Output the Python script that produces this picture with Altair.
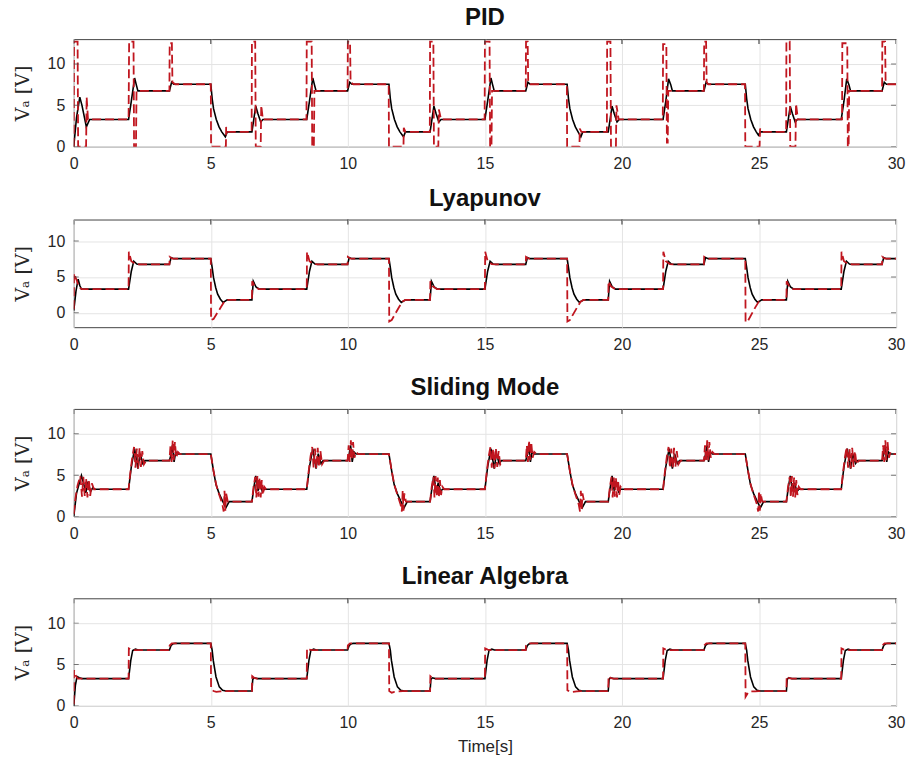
import altair as alt
import pandas as pd

X_TICKS = [0, 5, 10, 15, 20, 25, 30]
Y_TICKS = [0, 5, 10]
TITLES = ["PID", "Lyapunov", "Sliding Mode", "Linear Algebra"]
Y_DOMAINS = [[0, 13], [-2, 13], [0, 13], [0, 13]]
Y_TITLE = "Vₐ [V]"
X_TITLE = "Time[s]"

PID_BLACK = [
    (0, 0), (0.1, 3.5), (0.22, 6.0), (0.3, 5.0), (0.46, 2.4), (0.58, 3.3),
    (2.0, 3.3), (2.1, 5.5), (2.22, 8.3), (2.28, 7.5), (2.34, 6.75),
    (3.49, 6.75), (3.57, 7.8), (3.65, 7.55),
    (5.0, 7.55), (5.05, 5.8), (5.1, 4.6), (5.2, 3.3), (5.3, 2.4), (5.4, 1.8), (5.53, 1.2), (5.6, 1.8),
    (6.5, 1.8), (6.64, 4.9), (6.72, 4.0), (6.82, 3.0), (6.9, 3.3),
    (8.5, 3.3), (8.6, 5.5), (8.72, 8.3), (8.78, 7.5), (8.84, 6.75),
    (9.99, 6.75), (10.07, 7.8), (10.15, 7.55),
    (11.5, 7.55), (11.55, 5.8), (11.6, 4.6), (11.7, 3.3), (11.8, 2.4), (11.9, 1.8), (12.03, 1.2), (12.1, 1.8),
    (13.0, 1.8), (13.14, 4.9), (13.22, 4.0), (13.32, 3.0), (13.4, 3.3),
    (15.0, 3.3), (15.1, 5.5), (15.22, 8.3), (15.28, 7.5), (15.34, 6.75),
    (16.49, 6.75), (16.57, 7.8), (16.65, 7.55),
    (18.0, 7.55), (18.05, 5.8), (18.1, 4.6), (18.2, 3.3), (18.3, 2.4), (18.4, 1.8), (18.5, 1.2), (18.57, 1.8),
    (19.5, 1.8), (19.64, 4.9), (19.72, 4.0), (19.82, 3.0), (19.9, 3.3),
    (21.5, 3.3), (21.6, 5.5), (21.7, 8.2), (21.78, 7.5), (21.84, 6.75),
    (22.99, 6.75), (23.07, 7.8), (23.15, 7.55),
    (24.5, 7.55), (24.55, 5.8), (24.6, 4.6), (24.7, 3.3), (24.8, 2.4), (24.9, 1.8), (24.98, 1.4), (25.05, 1.8),
    (26.0, 1.8), (26.14, 4.9), (26.22, 4.0), (26.32, 3.0), (26.4, 3.3),
    (28.0, 3.3), (28.1, 5.5), (28.2, 8.2), (28.28, 7.5), (28.34, 6.75),
    (29.49, 6.75), (29.57, 7.8), (29.65, 7.55), (30.0, 7.55),
]

PID_RED = [
    (0, 0), (0.01, 12.7), (0.14, 12.7), (0.16, 0), (0.45, 0), (0.47, 6.0), (0.52, 3.3),
    (2.0, 3.3), (2.02, 12.7), (2.18, 12.7), (2.2, 0), (2.27, 0), (2.29, 6.75),
    (3.49, 6.75), (3.5, 12.5), (3.58, 12.5), (3.6, 7.8), (3.7, 7.55),
    (5.0, 7.55), (5.01, 0), (5.55, 0), (5.56, 2.4), (5.6, 1.8),
    (6.49, 1.8), (6.5, 12.7), (6.62, 12.7), (6.64, 0), (6.82, 0), (6.84, 5.0), (6.9, 3.3),
    (8.49, 3.3), (8.5, 12.7), (8.68, 12.7), (8.7, 0), (8.76, 0), (8.78, 6.75),
    (9.99, 6.75), (10.0, 12.7), (10.08, 12.7), (10.1, 7.8), (10.2, 7.55),
    (11.49, 7.55), (11.5, 0), (12.03, 0), (12.04, 2.3), (12.1, 1.8),
    (12.99, 1.8), (13.0, 12.7), (13.12, 12.7), (13.14, 0), (13.3, 0), (13.32, 4.5), (13.4, 3.3),
    (14.99, 3.3), (15.0, 12.7), (15.17, 12.7), (15.19, 0), (15.24, 0), (15.26, 6.75),
    (16.49, 6.75), (16.5, 12.7), (16.56, 12.7), (16.58, 7.8), (16.65, 7.55),
    (17.99, 7.55), (18.0, 0), (18.45, 0), (18.46, 2.2), (18.52, 1.8),
    (19.45, 1.8), (19.46, 12.7), (19.58, 12.7), (19.6, 0), (19.78, 0), (19.8, 5.0), (19.88, 3.3),
    (21.49, 3.3), (21.5, 12.4), (21.62, 12.4), (21.64, 0.5), (21.67, 0.5), (21.69, 6.75),
    (22.99, 6.75), (23.0, 12.7), (23.07, 12.7), (23.09, 7.8), (23.15, 7.55),
    (24.49, 7.55), (24.5, 0), (25.02, 0), (25.04, 2.2), (25.1, 1.8),
    (25.99, 1.8), (26.0, 12.7), (26.12, 12.7), (26.14, 0), (26.33, 0), (26.35, 5.2), (26.42, 3.3),
    (28.03, 3.3), (28.04, 12.5), (28.22, 12.5), (28.24, 0), (28.27, 0), (28.29, 6.75),
    (29.49, 6.75), (29.5, 12.7), (29.6, 12.7), (29.62, 7.8), (29.7, 7.55), (30.0, 7.55),
]

LYA_BLACK = [
    (0, 0.3), (0.08, 3.0), (0.16, 4.7), (0.22, 3.8), (0.28, 3.3),
    (2.0, 3.3), (2.1, 5.8), (2.19, 7.2), (2.3, 6.8), (2.4, 6.75),
    (3.49, 6.75), (3.55, 7.7), (3.65, 7.55),
    (5.0, 7.55), (5.05, 6.3), (5.1, 4.9), (5.18, 3.5), (5.25, 2.6), (5.35, 1.9), (5.45, 1.45), (5.6, 1.8),
    (6.5, 1.8), (6.55, 4.4), (6.65, 3.6), (6.77, 3.3),
    (8.5, 3.3), (8.6, 5.8), (8.69, 7.2), (8.8, 6.8), (8.9, 6.75),
    (9.99, 6.75), (10.05, 7.7), (10.15, 7.55),
    (11.5, 7.55), (11.55, 6.3), (11.6, 4.9), (11.68, 3.5), (11.75, 2.6), (11.85, 1.9), (11.95, 1.45), (12.1, 1.8),
    (13.0, 1.8), (13.05, 4.4), (13.15, 3.6), (13.27, 3.3),
    (15.0, 3.3), (15.1, 5.8), (15.19, 7.2), (15.3, 6.8), (15.4, 6.75),
    (16.49, 6.75), (16.55, 7.7), (16.65, 7.55),
    (18.0, 7.55), (18.05, 6.3), (18.1, 4.9), (18.18, 3.5), (18.25, 2.6), (18.35, 1.9), (18.45, 1.45), (18.6, 1.8),
    (19.5, 1.8), (19.55, 4.4), (19.65, 3.6), (19.77, 3.3),
    (21.5, 3.3), (21.6, 5.8), (21.69, 7.2), (21.8, 6.8), (21.9, 6.75),
    (22.99, 6.75), (23.05, 7.7), (23.15, 7.55),
    (24.5, 7.55), (24.55, 6.3), (24.6, 4.9), (24.68, 3.5), (24.75, 2.6), (24.85, 1.9), (24.95, 1.45), (25.1, 1.8),
    (26.0, 1.8), (26.05, 4.4), (26.15, 3.6), (26.27, 3.3),
    (28.0, 3.3), (28.1, 5.8), (28.19, 7.2), (28.3, 6.8), (28.4, 6.75),
    (29.49, 6.75), (29.55, 7.7), (29.65, 7.55), (30.0, 7.55),
]

LYA_RED = [
    (0, 0.5), (0.01, 5.5), (0.1, 4.6), (0.2, 3.5), (0.3, 3.3),
    (2.0, 3.3), (2.01, 8.5), (2.1, 7.2), (2.25, 6.8), (2.4, 6.75),
    (3.49, 6.75), (3.5, 7.8), (3.6, 7.55),
    (5.0, 7.55), (5.01, -1.0), (5.1, -0.85), (5.37, 0.8), (5.5, 1.6), (5.6, 1.8),
    (6.5, 1.8), (6.51, 4.4), (6.6, 3.7), (6.75, 3.3),
    (8.5, 3.3), (8.51, 8.5), (8.6, 7.2), (8.75, 6.8), (8.9, 6.75),
    (9.99, 6.75), (10.0, 7.8), (10.1, 7.55),
    (11.5, 7.55), (11.51, -1.2), (11.6, -1.0), (11.87, 0.8), (12.0, 1.6), (12.1, 1.8),
    (13.0, 1.8), (13.01, 4.4), (13.1, 3.7), (13.25, 3.3),
    (15.0, 3.3), (15.01, 8.5), (15.1, 7.2), (15.25, 6.8), (15.4, 6.75),
    (16.49, 6.75), (16.5, 7.8), (16.6, 7.55),
    (18.0, 7.55), (18.01, -1.2), (18.1, -1.0), (18.37, 0.8), (18.5, 1.6), (18.6, 1.8),
    (19.5, 1.8), (19.51, 4.4), (19.6, 3.7), (19.75, 3.3),
    (21.5, 3.3), (21.51, 8.5), (21.6, 7.2), (21.75, 6.8), (21.9, 6.75),
    (22.99, 6.75), (23.0, 7.8), (23.1, 7.55),
    (24.5, 7.55), (24.51, -1.3), (24.6, -1.1), (24.87, 0.8), (25.0, 1.6), (25.1, 1.8),
    (26.0, 1.8), (26.01, 4.4), (26.1, 3.7), (26.25, 3.3),
    (28.0, 3.3), (28.01, 8.5), (28.1, 7.2), (28.25, 6.8), (28.4, 6.75),
    (29.49, 6.75), (29.5, 7.8), (29.6, 7.55), (30.0, 7.55),
]

SMC_BLACK = [
    (0, 0), (0.1, 2.8), (0.28, 4.96), (0.36, 4.0), (0.44, 2.86), (0.52, 4.2), (0.61, 3.0), (0.7, 3.5), (0.76, 3.3),
    (2.0, 3.3), (2.1, 6.0), (2.22, 8.2), (2.34, 5.8), (2.42, 7.6), (2.52, 6.4), (2.6, 6.75),
    (3.49, 6.75), (3.55, 7.5), (3.6, 8.6), (3.66, 6.6), (3.72, 7.8), (3.8, 7.55),
    (5.0, 7.55), (5.1, 5.5), (5.19, 3.86), (5.3, 2.8), (5.43, 1.87), (5.55, 1.07), (5.67, 1.8),
    (6.5, 1.8), (6.57, 3.5), (6.64, 4.9), (6.72, 3.1), (6.8, 4.1), (6.88, 3.0), (6.95, 3.3),
    (8.5, 3.3), (8.6, 6.0), (8.72, 8.2), (8.84, 5.8), (8.92, 7.6), (9.02, 6.4), (9.1, 6.75),
    (9.99, 6.75), (10.05, 7.5), (10.1, 8.6), (10.16, 6.6), (10.22, 7.8), (10.3, 7.55),
    (11.5, 7.55), (11.6, 5.5), (11.69, 3.86), (11.8, 2.8), (11.93, 1.87), (12.05, 1.07), (12.17, 1.8),
    (13.0, 1.8), (13.07, 3.5), (13.14, 4.9), (13.22, 3.1), (13.3, 4.1), (13.38, 3.0), (13.45, 3.3),
    (15.0, 3.3), (15.1, 6.0), (15.22, 8.2), (15.34, 5.8), (15.42, 7.6), (15.52, 6.4), (15.6, 6.75),
    (16.49, 6.75), (16.55, 7.5), (16.6, 8.6), (16.66, 6.6), (16.72, 7.8), (16.8, 7.55),
    (18.0, 7.55), (18.1, 5.5), (18.19, 3.86), (18.3, 2.8), (18.43, 1.87), (18.55, 1.07), (18.67, 1.8),
    (19.5, 1.8), (19.57, 3.5), (19.64, 4.9), (19.72, 3.1), (19.8, 4.1), (19.88, 3.0), (19.95, 3.3),
    (21.5, 3.3), (21.6, 6.0), (21.72, 8.2), (21.84, 5.8), (21.92, 7.6), (22.02, 6.4), (22.1, 6.75),
    (22.99, 6.75), (23.05, 7.5), (23.1, 8.6), (23.16, 6.6), (23.22, 7.8), (23.3, 7.55),
    (24.5, 7.55), (24.6, 5.5), (24.69, 3.86), (24.8, 2.8), (24.93, 1.87), (25.05, 1.07), (25.17, 1.8),
    (26.0, 1.8), (26.07, 3.5), (26.14, 4.9), (26.22, 3.1), (26.3, 4.1), (26.38, 3.0), (26.45, 3.3),
    (28.0, 3.3), (28.1, 6.0), (28.22, 8.2), (28.34, 5.8), (28.42, 7.6), (28.52, 6.4), (28.6, 6.75),
    (29.49, 6.75), (29.55, 7.5), (29.6, 8.6), (29.66, 6.6), (29.72, 7.8), (29.8, 7.55), (30.0, 7.55),
]

SMC_RED = [
    (0, 0.3), (0.06, 2.2), (0.14, 3.8), (0.24, 4.9), (0.3, 2.4), (0.35, 4.8), (0.4, 2.5), (0.45, 4.6),
    (0.5, 2.3), (0.55, 4.5), (0.6, 2.5), (0.66, 4.0), (0.74, 3.3),
    (2.0, 3.3), (2.06, 5.2), (2.14, 7.3), (2.2, 8.4), (2.25, 5.9), (2.3, 8.2), (2.35, 5.8), (2.4, 8.3),
    (2.45, 6.0), (2.5, 7.9), (2.56, 6.3), (2.64, 6.75),
    (3.49, 6.75), (3.53, 8.6), (3.57, 6.6), (3.61, 9.2), (3.65, 6.8), (3.69, 9.0), (3.74, 7.1), (3.8, 7.8), (3.88, 7.55),
    (5.0, 7.55), (5.1, 5.5), (5.2, 3.8), (5.3, 2.7), (5.42, 1.5), (5.47, 0.6), (5.5, 3.1), (5.53, 0.7), (5.56, 2.8), (5.62, 1.8),
    (6.5, 1.8), (6.56, 3.6), (6.62, 4.8), (6.66, 2.3), (6.7, 4.9), (6.74, 2.4), (6.78, 4.7), (6.82, 2.3),
    (6.86, 4.4), (6.9, 2.6), (6.95, 3.6), (7.02, 3.3),
    (8.5, 3.3), (8.56, 5.2), (8.64, 7.3), (8.7, 8.4), (8.75, 5.9), (8.8, 8.2), (8.85, 5.8), (8.9, 8.3),
    (8.95, 6.0), (9.0, 7.9), (9.06, 6.3), (9.14, 6.75),
    (9.99, 6.75), (10.03, 8.6), (10.07, 6.6), (10.11, 9.2), (10.15, 6.8), (10.19, 9.0), (10.24, 7.1), (10.3, 7.8), (10.38, 7.55),
    (11.5, 7.55), (11.6, 5.5), (11.7, 3.8), (11.8, 2.7), (11.92, 1.5), (11.97, 0.6), (12.0, 3.1), (12.03, 0.7), (12.06, 2.8), (12.12, 1.8),
    (13.0, 1.8), (13.06, 3.6), (13.12, 4.8), (13.16, 2.3), (13.2, 4.9), (13.24, 2.4), (13.28, 4.7), (13.32, 2.3),
    (13.36, 4.4), (13.4, 2.6), (13.45, 3.6), (13.52, 3.3),
    (15.0, 3.3), (15.06, 5.2), (15.14, 7.3), (15.2, 8.4), (15.25, 5.9), (15.3, 8.2), (15.35, 5.8), (15.4, 8.3),
    (15.45, 6.0), (15.5, 7.9), (15.56, 6.3), (15.64, 6.75),
    (16.49, 6.75), (16.53, 8.6), (16.57, 6.6), (16.61, 9.2), (16.65, 6.8), (16.69, 9.0), (16.74, 7.1), (16.8, 7.8), (16.88, 7.55),
    (18.0, 7.55), (18.1, 5.5), (18.2, 3.8), (18.3, 2.7), (18.42, 1.5), (18.47, 0.6), (18.5, 3.1), (18.53, 0.7), (18.56, 2.8), (18.62, 1.8),
    (19.5, 1.8), (19.56, 3.6), (19.62, 4.8), (19.66, 2.3), (19.7, 4.9), (19.74, 2.4), (19.78, 4.7), (19.82, 2.3),
    (19.86, 4.4), (19.9, 2.6), (19.95, 3.6), (20.02, 3.3),
    (21.5, 3.3), (21.56, 5.2), (21.64, 7.3), (21.7, 8.4), (21.75, 5.9), (21.8, 8.2), (21.85, 5.8), (21.9, 8.3),
    (21.95, 6.0), (22.0, 7.9), (22.06, 6.3), (22.14, 6.75),
    (22.99, 6.75), (23.03, 8.6), (23.07, 6.6), (23.11, 9.2), (23.15, 6.8), (23.19, 9.0), (23.24, 7.1), (23.3, 7.8), (23.38, 7.55),
    (24.5, 7.55), (24.6, 5.5), (24.7, 3.8), (24.8, 2.7), (24.92, 1.5), (24.97, 0.6), (25.0, 3.1), (25.03, 0.7), (25.06, 2.8), (25.12, 1.8),
    (26.0, 1.8), (26.06, 3.6), (26.12, 4.8), (26.16, 2.3), (26.2, 4.9), (26.24, 2.4), (26.28, 4.7), (26.32, 2.3),
    (26.36, 4.4), (26.4, 2.6), (26.45, 3.6), (26.52, 3.3),
    (28.0, 3.3), (28.06, 5.2), (28.14, 7.3), (28.2, 8.4), (28.25, 5.9), (28.3, 8.2), (28.35, 5.8), (28.4, 8.3),
    (28.45, 6.0), (28.5, 7.9), (28.56, 6.3), (28.64, 6.75),
    (29.49, 6.75), (29.53, 8.6), (29.57, 6.6), (29.61, 9.2), (29.65, 6.8), (29.69, 9.0), (29.74, 7.1), (29.8, 7.8),
    (29.88, 7.55), (30.0, 7.55),
]

LIN_BLACK = [
    (0, 0), (0.06, 2.5), (0.12, 3.56), (0.2, 3.4), (0.3, 3.3),
    (2.0, 3.3), (2.08, 5.5), (2.15, 6.7), (2.25, 6.85), (2.35, 6.75),
    (3.49, 6.75), (3.55, 7.3), (3.62, 7.5), (3.7, 7.55),
    (5.0, 7.55), (5.05, 6.7), (5.09, 5.5), (5.19, 3.5), (5.31, 2.3), (5.43, 1.88), (5.55, 1.8),
    (6.5, 1.8), (6.53, 3.2), (6.58, 3.4), (6.7, 3.3),
    (8.5, 3.3), (8.58, 5.5), (8.65, 6.7), (8.75, 6.85), (8.85, 6.75),
    (9.99, 6.75), (10.05, 7.3), (10.12, 7.5), (10.2, 7.55),
    (11.5, 7.55), (11.55, 6.7), (11.59, 5.5), (11.69, 3.5), (11.81, 2.3), (11.93, 1.88), (12.05, 1.8),
    (13.0, 1.8), (13.03, 3.2), (13.08, 3.4), (13.2, 3.3),
    (15.0, 3.3), (15.08, 5.5), (15.15, 6.7), (15.25, 6.85), (15.35, 6.75),
    (16.49, 6.75), (16.55, 7.3), (16.62, 7.5), (16.7, 7.55),
    (18.0, 7.55), (18.05, 6.7), (18.09, 5.5), (18.19, 3.5), (18.31, 2.3), (18.43, 1.88), (18.55, 1.8),
    (19.5, 1.8), (19.53, 3.2), (19.58, 3.4), (19.7, 3.3),
    (21.5, 3.3), (21.58, 5.5), (21.65, 6.7), (21.75, 6.85), (21.85, 6.75),
    (22.99, 6.75), (23.05, 7.3), (23.12, 7.5), (23.2, 7.55),
    (24.5, 7.55), (24.55, 6.7), (24.59, 5.5), (24.69, 3.5), (24.81, 2.3), (24.93, 1.88), (25.05, 1.8),
    (26.0, 1.8), (26.03, 3.2), (26.08, 3.4), (26.2, 3.3),
    (28.0, 3.3), (28.08, 5.5), (28.15, 6.7), (28.25, 6.85), (28.35, 6.75),
    (29.49, 6.75), (29.55, 7.3), (29.62, 7.5), (29.7, 7.55), (30.0, 7.55),
]

LIN_RED = [
    (0, 0.2), (0.01, 4.3), (0.08, 3.6), (0.15, 3.3),
    (2.0, 3.3), (2.01, 6.95), (2.1, 6.8), (2.2, 6.75),
    (3.49, 6.75), (3.5, 7.3), (3.58, 7.55),
    (5.0, 7.55), (5.01, 2.1), (5.1, 1.8), (5.2, 1.7), (5.35, 1.75), (5.5, 1.8),
    (6.5, 1.8), (6.51, 3.6), (6.6, 3.35), (6.7, 3.3),
    (8.5, 3.3), (8.51, 6.95), (8.6, 6.8), (8.7, 6.75),
    (9.99, 6.75), (10.0, 7.3), (10.08, 7.55),
    (11.5, 7.55), (11.51, 1.8), (11.6, 1.6), (11.7, 1.7), (11.85, 1.75), (12.0, 1.8),
    (13.0, 1.8), (13.01, 3.6), (13.1, 3.35), (13.2, 3.3),
    (15.0, 3.3), (15.01, 6.95), (15.1, 6.8), (15.2, 6.75),
    (16.49, 6.75), (16.5, 7.3), (16.58, 7.55),
    (18.0, 7.55), (18.01, 1.9), (18.1, 1.7), (18.2, 1.7), (18.35, 1.75), (18.5, 1.8),
    (19.5, 1.8), (19.51, 3.6), (19.6, 3.35), (19.7, 3.3),
    (21.5, 3.3), (21.51, 6.95), (21.6, 6.8), (21.7, 6.75),
    (22.99, 6.75), (23.0, 7.3), (23.08, 7.55),
    (24.5, 7.55), (24.51, 1.1), (24.6, 1.6), (24.7, 1.75), (24.85, 1.75), (25.0, 1.8),
    (26.0, 1.8), (26.01, 3.6), (26.1, 3.35), (26.2, 3.3),
    (28.0, 3.3), (28.01, 6.95), (28.1, 6.8), (28.2, 6.75),
    (29.49, 6.75), (29.5, 7.3), (29.58, 7.55), (30.0, 7.55),
]

SERIES = [(PID_BLACK, PID_RED), (LYA_BLACK, LYA_RED), (SMC_BLACK, SMC_RED), (LIN_BLACK, LIN_RED)]

BLACK = "#000000"
RED = "#c0161f"
FRAME = "#444444"


def frame(pairs):
    return pd.DataFrame({
        "t": [p[0] for p in pairs],
        "v": [p[1] for p in pairs],
        "i": list(range(len(pairs))),
    })


def panel(k, last):
    black, red = SERIES[k]
    xscale = alt.Scale(domain=[0, 30], nice=False, zero=False)
    yscale = alt.Scale(domain=Y_DOMAINS[k], nice=False, zero=False)
    xaxis = alt.Axis(values=X_TICKS, labelFlush=False, grid=True)
    if last:
        x = alt.X("t:Q", scale=xscale, axis=xaxis, title=X_TITLE)
    else:
        x = alt.X("t:Q", scale=xscale, axis=xaxis, title=None)
    y = alt.Y("v:Q", scale=yscale, axis=alt.Axis(values=Y_TICKS, grid=True), title=Y_TITLE)
    b = alt.Chart(frame(black)).mark_line(color=BLACK, strokeWidth=1.6, clip=True).encode(
        x=x, y=y, order="i:Q")
    r = alt.Chart(frame(red)).mark_line(color=RED, strokeWidth=1.8, strokeDash=[9, 4], clip=True).encode(
        x=x, y=y, order="i:Q")
    xt = pd.DataFrame({"t": X_TICKS})
    yt = pd.DataFrame({"v": Y_TICKS})
    tick_top = alt.Chart(xt).mark_tick(color=FRAME, size=10, thickness=1, clip=True).encode(
        x=alt.X("t:Q", scale=xscale), y=alt.value(0))
    tick_bot = alt.Chart(xt).mark_tick(color=FRAME, size=10, thickness=1, clip=True).encode(
        x=alt.X("t:Q", scale=xscale), y=alt.value({"expr": "height"}))
    tick_left = alt.Chart(yt).mark_tick(color=FRAME, size=10, thickness=1, clip=True).encode(
        y=alt.Y("v:Q", scale=yscale), x=alt.value(0))
    tick_right = alt.Chart(yt).mark_tick(color=FRAME, size=10, thickness=1, clip=True).encode(
        y=alt.Y("v:Q", scale=yscale), x=alt.value({"expr": "width"}))
    return alt.layer(b, r, tick_top, tick_bot, tick_left, tick_right).properties(
        width=825, height=108,
        title=alt.TitleParams(TITLES[k], anchor="middle"),
    )


p1 = panel(0, False)
p2 = panel(1, False)
p3 = panel(2, False)
p4 = panel(3, True)

chart = alt.vconcat(
    p1,
    alt.vconcat(p2, p3, p4, spacing=22),
    spacing=13,
).properties(
    padding={"left": 12, "top": 4, "right": 5, "bottom": 5},
    background="white",
).configure_view(
    stroke=FRAME, strokeWidth=1,
).configure_axis(
    labelFont="Liberation Sans", labelFontSize=16, labelColor="#262626",
    gridColor="#e4e4e4", gridWidth=1, domain=False, ticks=False, labelPadding=9,
    titleColor="#262626",
).configure_axisY(
    titleFont="DejaVu Serif", titleFontSize=19, titleFontWeight="normal", titlePadding=15,
).configure_axisX(
    titleFont="Liberation Sans", titleFontSize=17, titleFontWeight="normal", titlePadding=8,
).configure_title(
    font="Liberation Sans", fontSize=24, fontWeight="bold", color="#111111", offset=9,
)

chart.save("out.html", embed_options={"renderer": "svg", "actions": False})
